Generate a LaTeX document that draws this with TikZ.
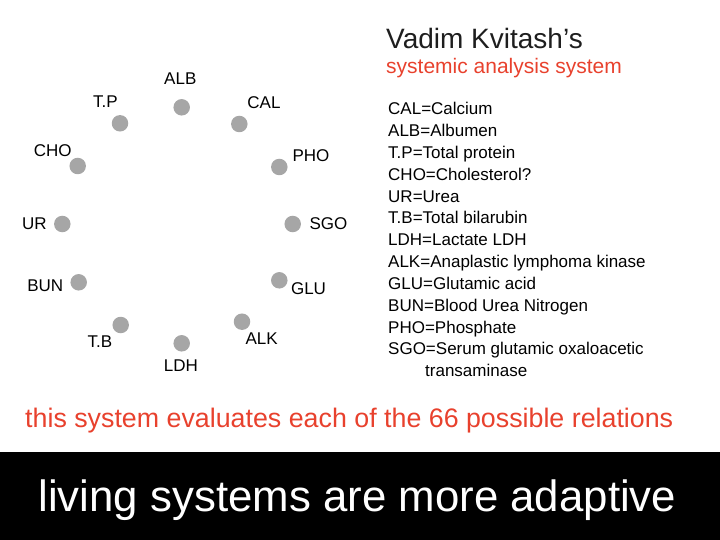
\documentclass[tikz,border=0pt]{standalone}
\usepackage{fontspec}
\setmainfont{Liberation Sans}
\definecolor{dotgray}{RGB}{166, 166, 166}
\definecolor{slidered}{RGB}{232, 65, 45}
\definecolor{titlegray}{RGB}{30, 30, 30}

\begin{document}
\begin{tikzpicture}[
  x=1pt, y=-1pt,
  dot/.style={circle, fill=dotgray, minimum size=16.5pt, inner sep=0pt},
  tag/.style={font=\fontsize{17}{20}\selectfont},
  listitem/.style={anchor=base west, inner sep=0pt, font=\fontsize{17}{20}\selectfont},
]
\useasboundingbox (0,0) rectangle (720,540);

% Ring of measured quantities
\node[dot] (alb) at (181.7, 107.3) {};
\node[dot] (cal) at (239.3, 124) {};
\node[dot] (pho) at (279.3, 167) {};
\node[dot] (sgo) at (292.7, 224) {};
\node[dot] (glu) at (279.3, 280.3) {};
\node[dot] (alk) at (242, 321.7) {};
\node[dot] (ldh) at (181.7, 343.3) {};
\node[dot] (tb) at (120.7, 325) {};
\node[dot] (bun) at (78.7, 282.3) {};
\node[dot] (ur) at (62.3, 224) {};
\node[dot] (cho) at (77.7, 166) {};
\node[dot] (tp) at (120, 123.3) {};

\node[tag] (alblabel) at (180.3, 79) {ALB};
\node[tag] (callabel) at (264, 103) {CAL};
\node[tag] (pholabel) at (311, 155.5) {PHO};
\node[tag] (sgolabel) at (328.5, 224) {SGO};
\node[tag] (glulabel) at (308.5, 288.7) {GLU};
\node[tag] (alklabel) at (261.7, 338.5) {ALK};
\node[tag] (ldhlabel) at (181, 366) {LDH};
\node[tag] (tblabel) at (100, 341.5) {T.B};
\node[tag] (bunlabel) at (45.3, 285.3) {BUN};
\node[tag] (urlabel) at (34.3, 224) {UR};
\node[tag] (cholabel) at (52.7, 150.7) {CHO};
\node[tag] (tplabel) at (105.3, 101.5) {T.P};

% Title
\node[anchor=base west, inner sep=0pt, text=titlegray, font=\fontsize{28}{32}\selectfont] (title) at (386, 48.3) {Vadim Kvitash’s};
\node[anchor=base west, inner sep=0pt, text=slidered, font=\fontsize{21}{24}\selectfont] (subtitle) at (386, 74) {systemic analysis system};

% Abbreviations
\foreach \txt [count=\i from 0] in {CAL=Calcium, ALB=Albumen, T.P=Total protein,
    CHO=Cholesterol?, UR=Urea, T.B=Total bilarubin, LDH=Lactate LDH,
    ALK=Anaplastic lymphoma kinase, GLU=Glutamic acid, BUN=Blood Urea Nitrogen,
    PHO=Phosphate, SGO=Serum glutamic oxaloacetic}
  \node[listitem] (def\i) at (388, 115+21.8*\i) {\txt};
\node[listitem] (defcont) at (425, 376.7) {transaminase};

% Bottom lines
\node[anchor=base west, inner sep=0pt, text=slidered, font=\fontsize{26.8}{30}\selectfont] (relations) at (25, 427.3) {this system evaluates each of the 66 possible relations};
\fill[black] (0,452) rectangle (720,540);
\node[anchor=base west, inner sep=0pt, text=white, font=\fontsize{43.8}{48}\selectfont] (banner) at (38.3, 511.7) {living systems are more adaptive};
\end{tikzpicture}
\end{document}
